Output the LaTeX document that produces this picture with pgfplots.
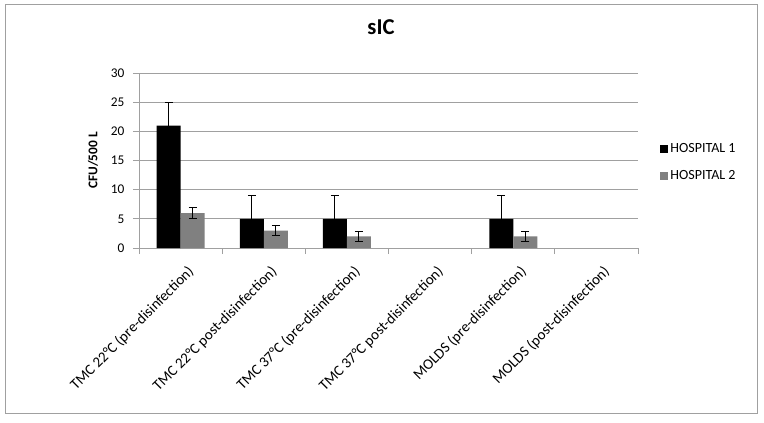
\documentclass[border=0pt]{standalone}
\usepackage{fontspec}
\setmainfont{Carlito}
\usepackage{pgfplots}
\pgfplotsset{compat=1.18}

\definecolor{hospone}{RGB}{0,0,0}
\definecolor{hosptwo}{RGB}{128,128,128}
\definecolor{gridgray}{RGB}{160,160,160}

\begin{document}
\begin{tikzpicture}
% page and outer chart frame (1px = 0.75pt)
\path[use as bounding box] (0,0) rectangle (573pt,316.5pt);
\draw[gridgray, line width=0.75pt] (3.75pt,6.75pt) rectangle (567.75pt,312.75pt);
\begin{axis}[
  at={(104.25pt,130.5pt)}, anchor=south west,
  scale only axis, width=374.25pt, height=131.25pt,
  ybar=0pt, bar width=18pt,
  xmin=-0.5, xmax=5.5, ymin=0, ymax=30,
  ytick={0,5,...,30},
  xtick={0,...,5},
  xticklabels={TMC 22°C (pre-disinfection),TMC 22°C post-disinfection),TMC 37°C (pre-disinfection),TMC 37°C post-disinfection),MOLDS (pre-disinfection),MOLDS (post-disinfection)},
  minor xtick={-0.5,0.5,...,5.5},
  major x tick style={draw=none},
  tick align=outside, major tick length=4.5pt, minor tick length=4.5pt,
  every tick/.style={gridgray, line width=0.75pt},
  axis x line*=bottom, axis y line*=left,
  axis line style={gridgray, line width=0.75pt, -},
  ymajorgrids, grid style={gridgray, line width=0.75pt},
  /pgf/number format/assume math mode=true,
  tick label style={font=\fontsize{10}{12}\selectfont, black},
  yticklabel style={xshift=-3pt},
  xticklabel style={font=\fontsize{11.2}{12}\selectfont, rotate=45, anchor=east, xshift=1pt, yshift=-14pt},
  ylabel={\textbf{CFU/500 L}},
  ylabel style={font=\fontsize{10}{12}\selectfont, at={(axis description cs:-0.092,0.5)}, anchor=center},
  title={\textbf{sIC}},
  title style={font=\fontsize{17}{20}\selectfont, at={(axis description cs:0.485,1.217)}, anchor=center},
  legend style={draw=none, fill=none, at={(axis description cs:1.044,0.4886)}, anchor=west,
    font=\fontsize{10.5}{12}\selectfont, row sep=8pt, inner sep=0pt},
  legend cell align=left,
  legend image code/.code={\fill[#1] (0pt,-2.8pt) rectangle (5.6pt,2.8pt);},
  error bars/error bar style={black, line width=0.75pt},
  error bars/error mark options={black, rotate=90, mark size=3pt, line width=0.75pt},
]
\addplot[fill=hospone, draw=none,
  error bars/.cd, y dir=both, y explicit]
  coordinates {(0,21) +- (0,4) (1,5) +- (0,4) (2,5) +- (0,4) (4,5) +- (0,4)};
\addplot[fill=hosptwo, draw=none,
  error bars/.cd, y dir=both, y explicit]
  coordinates {(0,6) +- (0,0.9) (1,3) +- (0,0.8) (2,2) +- (0,0.85) (4,2) +- (0,0.8)};
\legend{HOSPITAL 1,HOSPITAL 2}
\end{axis}
\end{tikzpicture}
\end{document}
